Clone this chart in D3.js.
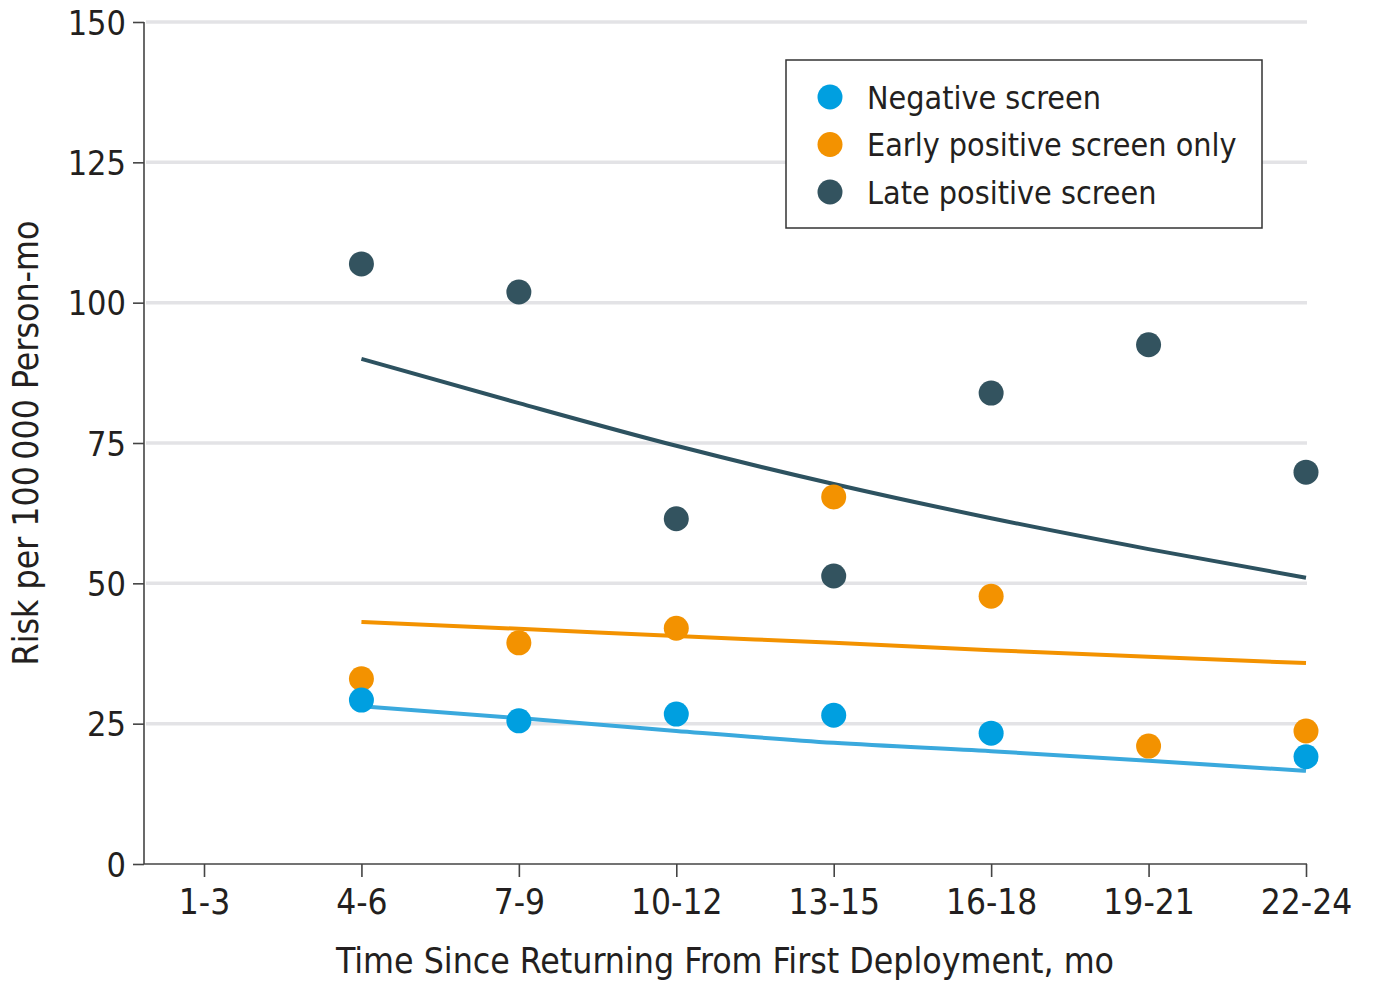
<!DOCTYPE html>
<html>
<head>
<meta charset="utf-8">
<script src="https://cdn.jsdelivr.net/npm/d3@7"></script>
<style>
  html, body { margin: 0; padding: 0; background: #fff; }
  svg text { font-family: "DejaVu Sans", sans-serif; font-stretch: condensed; fill: #231f20; }
</style>
</head>
<body>
<svg id="chart" width="1373" height="983"></svg>
<script>
// Time windows since returning from first deployment
const categories = ["1-3", "4-6", "7-9", "10-12", "13-15", "16-18", "19-21", "22-24"];
const yTicks = [0, 25, 50, 75, 100, 125, 150];

// Observed risk per 100 000 person-months (null = not shown)
const negativeObserved = [null, 29.2, 25.5, 26.7, 26.5, 23.3, null, 19.1];
const earlyObserved    = [null, 33.0, 39.4, 42.0, 65.4, 47.7, 21.0, 23.7];
const lateObserved     = [null, 106.9, 101.9, 61.5, 51.3, 83.9, 92.5, 69.8];

// Fitted trend for each group
const negativeFitted = [null, 28.1, 26.0, 23.7, 21.6, 20.1, 18.4, 16.6];
const earlyFitted    = [null, 43.1, 41.9, 40.6, 39.4, 38.1, 36.9, 35.8];
const lateFitted     = [null, 90.0, 82.1, 74.5, 67.7, 61.6, 56.1, 51.0];

const seriesNames = ["Negative screen", "Early positive screen only", "Late positive screen"];
const dotColors = ["#009fe0", "#f39200", "#33535f"];
const lineColors = ["#3aa9dd", "#f39200", "#2d5260"];

const svg = d3.select("#chart");

const plot = { left: 144, right: 1307, top: 22, bottom: 864 };

const x = d3.scalePoint().domain(categories).range([204, 1306]);
const y = d3.scaleLinear().domain([0, 150]).range([plot.bottom, plot.top]);

// Horizontal gridlines
svg.append("g").selectAll("line").data(yTicks.filter(d => d > 0)).join("line")
  .attr("x1", plot.left + 2).attr("x2", plot.right)
  .attr("y1", d => y(d)).attr("y2", d => y(d))
  .attr("stroke", "#e3e3e6").attr("stroke-width", 3.5);

// Y axis
const yAxis = svg.append("g").attr("transform", `translate(${plot.left},0)`)
  .call(d3.axisLeft(y).tickValues(yTicks).tickSize(11).tickPadding(7));
yAxis.select(".domain").attr("stroke", "#444").attr("stroke-width", 1.6)
  .attr("d", `M0,${plot.top}V${plot.bottom}`);
yAxis.selectAll(".tick line").attr("stroke", "#444").attr("stroke-width", 1.6);
yAxis.selectAll(".tick text").attr("font-size", 34).attr("dy", "0.36em");

// X axis
const xAxis = svg.append("g").attr("transform", `translate(0,${plot.bottom})`)
  .call(d3.axisBottom(x).tickSize(13).tickPadding(12));
xAxis.select(".domain").attr("stroke", "#444").attr("stroke-width", 1.6)
  .attr("d", `M${plot.left},0H${plot.right}`);
xAxis.selectAll(".tick line").attr("stroke", "#444").attr("stroke-width", 1.6);
xAxis.selectAll(".tick text").attr("font-size", 35);

// Axis titles
svg.append("text")
  .attr("x", 725).attr("y", 973).attr("text-anchor", "middle")
  .attr("font-size", 35.3)
  .text("Time Since Returning From First Deployment, mo");

svg.append("text")
  .attr("transform", "translate(38,443) rotate(-90)")
  .attr("text-anchor", "middle").attr("font-size", 35.3)
  .text("Risk per 100\u2009000 Person-mo");

// Fitted lines
const fitted = [negativeFitted, earlyFitted, lateFitted];
const line = d3.line()
  .defined(d => d.v !== null)
  .x(d => x(d.c)).y(d => y(d.v))
  .curve(d3.curveMonotoneX);

fitted.forEach((vals, i) => {
  svg.append("path")
    .datum(categories.map((c, j) => ({ c, v: vals[j] })))
    .attr("fill", "none")
    .attr("stroke", lineColors[i])
    .attr("stroke-width", 4)
    .attr("d", line);
});

// Observed points
const observed = [negativeObserved, earlyObserved, lateObserved];
[2, 1, 0].forEach(i => {
  svg.append("g").selectAll("circle")
    .data(categories.map((c, j) => ({ c, v: observed[i][j] })).filter(d => d.v !== null))
    .join("circle")
    .attr("cx", d => x(d.c)).attr("cy", d => y(d.v))
    .attr("r", 12.5)
    .attr("fill", dotColors[i]);
});

// Legend
const legend = svg.append("g");
legend.append("rect")
  .attr("x", 786).attr("y", 60).attr("width", 476).attr("height", 168)
  .attr("fill", "#fff").attr("stroke", "#333").attr("stroke-width", 1.5);
seriesNames.forEach((name, i) => {
  const cy = 97 + i * 47.5;
  legend.append("circle").attr("cx", 830).attr("cy", cy).attr("r", 12.5).attr("fill", dotColors[i]);
  legend.append("text").attr("x", 867).attr("y", cy).attr("dy", "0.36em")
    .attr("font-size", 32).text(name);
});
</script>
</body>
</html>
